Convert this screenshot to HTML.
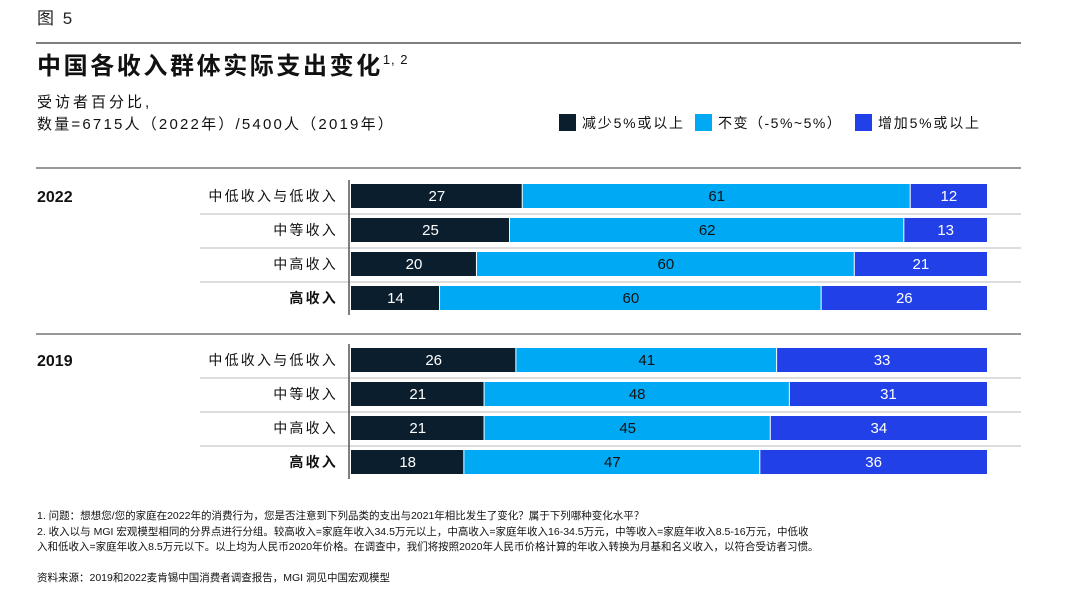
<!DOCTYPE html>
<html><head><meta charset="utf-8">
<style>
body{margin:0;background:#fff;}
svg text{font-family:"Liberation Sans","Noto Sans CJK SC",sans-serif;}
</style></head>
<body>
<svg width="1066" height="592" viewBox="0 0 1066 592" xmlns="http://www.w3.org/2000/svg">
<text x="37" y="24" font-size="17" fill="#222" letter-spacing="2">图 5</text>
<line x1="36" y1="43" x2="1021" y2="43" stroke="#555" stroke-width="1.5"/>
<text x="37" y="74" font-size="24" font-weight="bold" fill="#111" letter-spacing="2.6">中国各收入群体实际支出变化<tspan font-size="13" dy="-10" font-weight="normal" letter-spacing="1">1, 2</tspan></text>
<text x="37" y="107" font-size="15" fill="#111" letter-spacing="3">受访者百分比,</text>
<text x="37" y="129" font-size="15" fill="#111" letter-spacing="2.2">数量=6715人（2022年）/5400人（2019年）</text>
<g>
<rect x="559" y="114" width="17" height="17" fill="#0b1e2e"/>
<text x="582" y="128" font-size="14" fill="#111" letter-spacing="1.8">减少5%或以上</text>
<rect x="695" y="114" width="17" height="17" fill="#00a9f4"/>
<text x="718" y="128" font-size="14" fill="#111" letter-spacing="1.5">不变（-5%~5%）</text>
<rect x="855" y="114" width="17" height="17" fill="#2140e8"/>
<text x="878" y="128" font-size="14" fill="#111" letter-spacing="1.8">增加5%或以上</text>
</g>
<g id="plot"></g>
<g font-size="10.5" fill="#111">
<text x="37" y="519">1. 问题：想想您/您的家庭在2022年的消费行为，您是否注意到下列品类的支出与2021年相比发生了变化？属于下列哪种变化水平？</text>
<text x="37" y="535">2. 收入以与 MGI 宏观模型相同的分界点进行分组。较高收入=家庭年收入34.5万元以上，中高收入=家庭年收入16-34.5万元，中等收入=家庭年收入8.5-16万元，中低收</text>
<text x="37" y="550">入和低收入=家庭年收入8.5万元以下。以上均为人民币2020年价格。在调查中，我们将按照2020年人民币价格计算的年收入转换为月基和名义收入，以符合受访者习惯。</text>
<text x="37" y="581">资料来源：2019和2022麦肯锡中国消费者调查报告，MGI 洞见中国宏观模型</text>
</g>
</svg>
<script>
const years = ["2022","2019"];
const categories = ["中低收入与低收入","中等收入","中高收入","高收入"];
const decrease2022 = [27,25,20,14];
const same2022 = [61,62,60,60];
const increase2022 = [12,13,21,26];
const decrease2019 = [26,21,21,18];
const same2019 = [41,48,45,47];
const increase2019 = [33,31,34,36];

const NS="http://www.w3.org/2000/svg";
const plot=document.getElementById('plot');
const X0=351, W=636;
const groupTop=[184,348], rowStep=34, barH=24;
const colors=["#0b1e2e","#00a9f4","#2140e8"];
const textColors=["#fff","#111","#fff"];
const data={"2022":[decrease2022,same2022,increase2022],"2019":[decrease2019,same2019,increase2019]};
const seriesNames=["decrease","same","increase"];
function mk(tag,attrs){const e=document.createElementNS(NS,tag);for(const k in attrs)e.setAttribute(k,attrs[k]);plot.appendChild(e);return e;}
[168,334].forEach((y,i)=>{const l=mk('line',{x1:36,y1:y,x2:1021,y2:y,stroke:'#777','stroke-width':1.5});

});
years.forEach((yr,g)=>{
  const top=groupTop[g];
  const t=mk('text',{x:37,y:top+18,'font-size':16,'font-weight':'bold',fill:'#111'});t.textContent=yr;
  
  
  categories.forEach((c,i)=>{
    const y=top+i*rowStep;
    if(i<categories.length-1){const l=mk('line',{x1:200,y1:y+rowStep-4,x2:1021,y2:y+rowStep-4,stroke:'#bbb','stroke-width':1});
      
      }
    const lb=mk('text',{x:338,y:y+17,'font-size':14,'text-anchor':'end',fill:'#111','font-weight':i==3?'bold':'normal','letter-spacing':2.2});lb.textContent=c;
    
    
    const total=data[yr].reduce((a,s)=>a+s[i],0);
    const xScale=v=>v/total*W;
    let acc=0;
    data[yr].forEach((s,k)=>{
      const v=s[i];const x=X0+xScale(acc);
      const r=mk('rect',{x:x,y:y,width:xScale(v)-(k<2?1:0),height:barH,fill:colors[k]});
      
      
      const tx=mk('text',{x:x+xScale(v)/2,y:y+17,'font-size':15,'text-anchor':'middle',fill:textColors[k]});tx.textContent=v;
      
      
      acc+=v;
    });
  });
  const ax=mk('line',{x1:349,y1:top-4,x2:349,y2:top+4*rowStep-5,stroke:'#555','stroke-width':1.5});
  
  
});
</script>
</body></html>
